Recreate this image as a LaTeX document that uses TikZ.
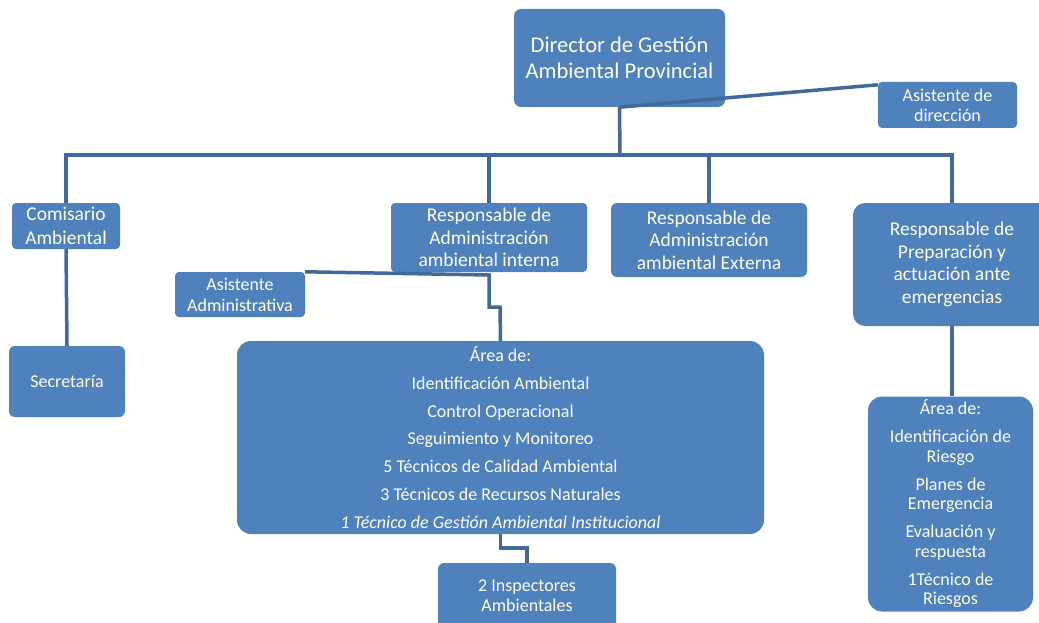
\documentclass[tikz,border=0pt]{standalone}
\usepackage{fontspec}
\setmainfont{Carlito}
\definecolor{boxblue}{RGB}{79,129,189}
\definecolor{lineblue}{RGB}{65,105,155}

\begin{document}
\begin{tikzpicture}[x=1pt, y=-1pt, box/.style={fill=boxblue, text=white, rounded corners=4pt, align=center, inner sep=0pt, font=\fontsize{18}{22}\selectfont}, big/.style={font=\fontsize{19.5}{22.5}\selectfont}, ln/.style={lineblue, line width=3.5pt}]
	\useasboundingbox (0,0) rectangle (1039,623);

	\node[box, minimum width=211pt, minimum height=98pt, rounded corners=7pt, font=\fontsize{22.5}{26}\selectfont] (dir) at (619.5,58) {Director de Gestión\\Ambiental Provincial};
	\node[box, minimum width=139pt, minimum height=46pt, font=\fontsize{18}{20}\selectfont] (asis) at (947.5,105) {Asistente de\\dirección};

	\node[box, minimum width=108pt, minimum height=46pt, font=\fontsize{19.5}{24}\selectfont] (com) at (66,226) {Comisario\\Ambiental};
	\node[box, big, minimum width=196pt, minimum height=69pt] (aint) at (489,237.5) {Responsable de\\Administración\\ambiental interna};
	\node[box, big, minimum width=196pt, minimum height=74pt, rounded corners=6pt] (aext) at (709,240) {Responsable de\\Administración\\ambiental Externa};
	\node[box, big, minimum width=198pt, minimum height=123pt, rounded corners=12pt] (emer) at (952,264.5) {Responsable de\\Preparación y\\actuación ante\\emergencias};

	\node[box, minimum width=130pt, minimum height=45pt, font=\fontsize{18}{21}\selectfont] (aadm) at (240,294.5) {Asistente\\Administrativa};
	\node[box, minimum width=116pt, minimum height=71pt, rounded corners=6pt] (sec) at (67,381.5) {Secretaría};

	\node[box, minimum width=527pt, minimum height=193pt, rounded corners=14pt, font=\fontsize{18}{27.8}\selectfont] (area) at (500.5,437.5) {Área de:\\Identificación Ambiental\\Control Operacional\\Seguimiento y Monitoreo\\5 Técnicos de Calidad Ambiental\\3 Técnicos de Recursos Naturales\\\textit{1 Técnico de Gestión Ambiental Institucional}};
	\node[box, minimum width=165pt, minimum height=215pt, rounded corners=14pt, font=\fontsize{18}{19.5}\selectfont] (area2) at (950.5,504) {Área de:\\[8.5pt]Identificación de\\Riesgo\\[8.5pt]Planes de\\Emergencia\\[8.5pt]Evaluación y\\respuesta\\[8.5pt]1Técnico de\\Riesgos};
	\node[box, minimum width=178pt, minimum height=66pt, rounded corners=6pt, font=\fontsize{18}{20}\selectfont] (insp) at (527,596) {2 Inspectores\\Ambientales};

	% lineas
	\coordinate (bus) at (620,155);
	\coordinate (j2) at (489,275);
	\coordinate (j3) at (500,307);

	\draw[ln] (dir.south) -- (bus);
	\draw[ln] (dir.south) -- ([yshift=-3pt]asis.north west);
	\draw[ln] (com.north) -- (com.north |- bus) -- (emer.north |- bus) -- (emer.north);
	\draw[ln] (aint.north) -- (aint.north |- bus);
	\draw[ln] (aext.north) -- (aext.north |- bus);

	\draw[ln] (com.south) -- (sec.north);
	\draw[ln] (aadm.north east) -- (j2) |- (j3) -- (area.north);
	\draw[ln] (area.south) -- ++(0,14) -| (insp.north);
	\draw[ln] (emer.south) -- (emer.south |- area2.north);
\end{tikzpicture}
\end{document}
